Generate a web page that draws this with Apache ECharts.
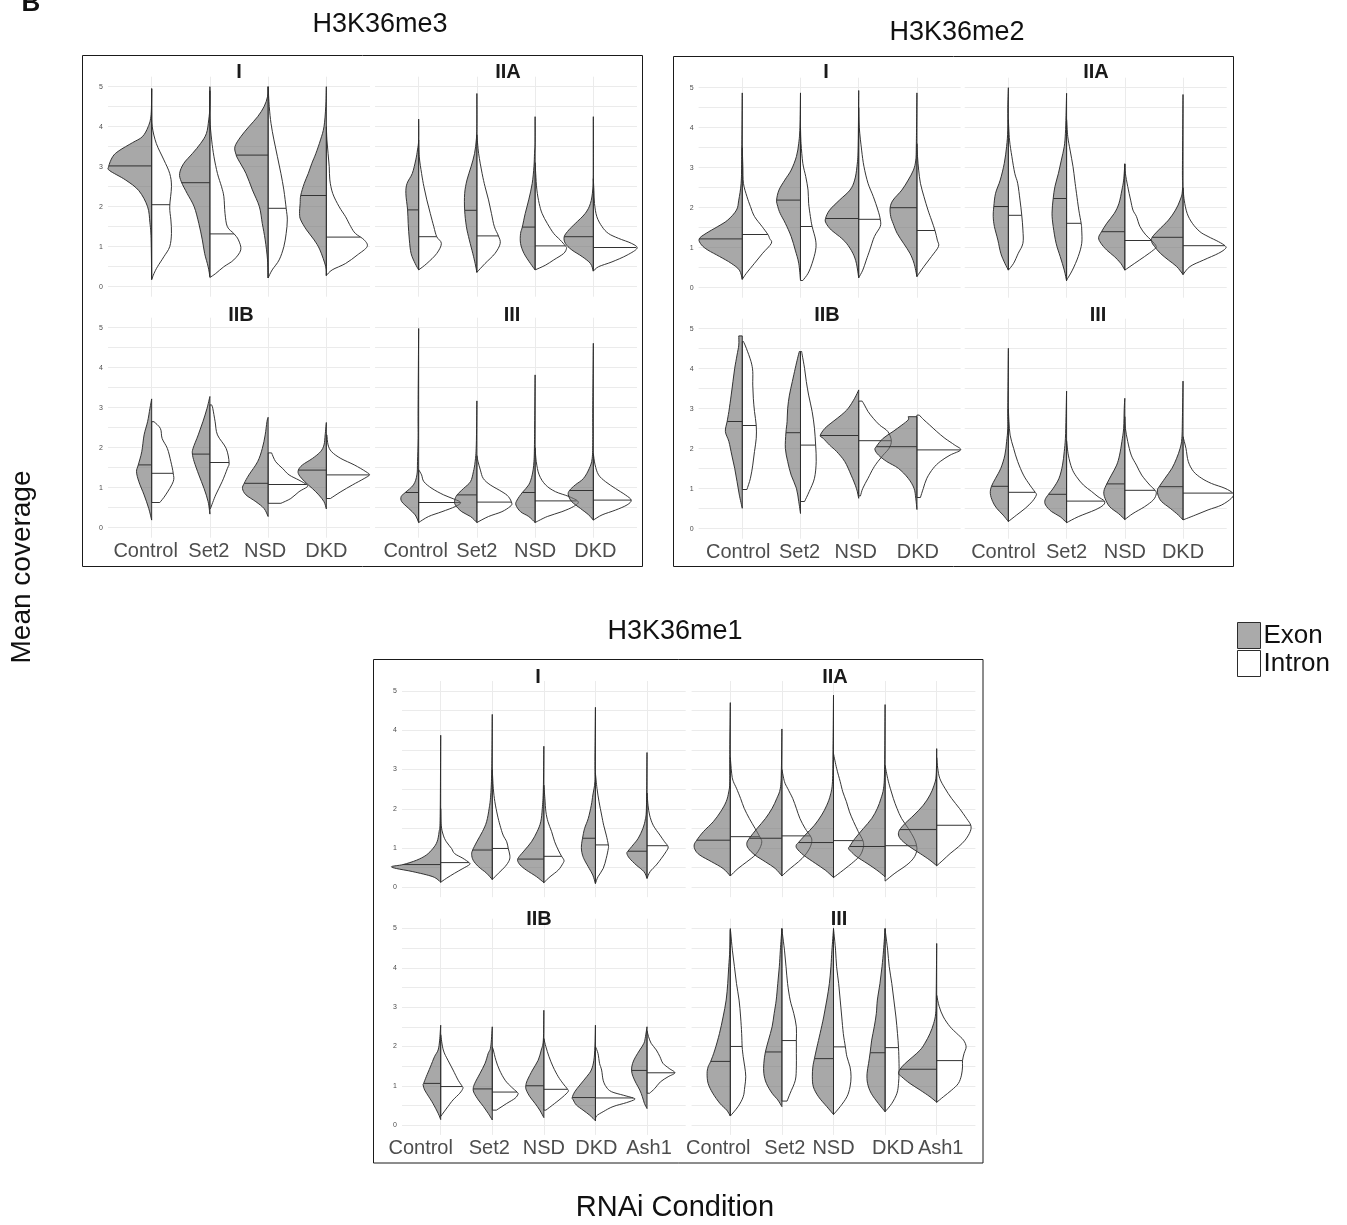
<!DOCTYPE html>
<html><head><meta charset="utf-8">
<script src="https://cdn.jsdelivr.net/npm/echarts@6/dist/echarts.min.js"></script>
<style>html,body{margin:0;padding:0;background:#fff}#c{width:1347px;height:1225px}</style>
</head><body><div id="c"></div>
<script>
// ---------- categories & ticks ----------
const catsFour = ['Control', 'Set2', 'NSD', 'DKD'];
const catsFive = ['Control', 'Set2', 'NSD', 'DKD', 'Ash1'];
const yTickLabels = [0, 1, 2, 3, 4, 5];
const yGridValues = [0, 0.5, 1, 1.5, 2, 2.5, 3, 3.5, 4, 4.5, 5];
const legendNames = ['Exon', 'Intron'];
const boxTitles = ['H3K36me3', 'H3K36me2', 'H3K36me1'];
const facetNames = ['I', 'IIA', 'IIB', 'III'];

// Half-violin profiles: [value, halfWidth(% of category spacing), ...] from min to max
// ===== H3K36me3 =====
const me3_I_exon = [
 [0.18,0, 1.2,1, 1.6,3, 2.0,7, 2.4,22, 2.67,45, 2.9,72, 3.0,74, 3.25,67, 3.4,56, 3.6,33, 3.75,16, 4.0,6, 4.3,1, 4.95,0],
 [0.25,0, 0.5,3, 0.83,9, 1.17,13, 1.58,19, 2.0,27, 2.33,39, 2.62,49, 2.83,52, 3.08,45, 3.33,30, 3.58,16, 3.83,6, 4.17,2, 4.5,0, 5.0,0],
 [0.22,0, 0.67,1, 1.17,5, 1.58,10, 2.0,15, 2.42,27, 2.83,38, 3.17,51, 3.3,55, 3.5,57, 3.75,47, 4.0,33, 4.25,18, 4.5,7, 4.75,1, 5.0,0],
 [0.28,0, 0.5,1, 0.92,11, 1.17,21, 1.42,34, 1.67,44, 1.83,46, 2.08,45, 2.28,44, 2.58,38, 2.83,31, 3.08,25, 3.33,18, 3.67,10, 4.0,4, 4.5,1, 5.0,0]];
const me3_I_intron = [
 [0.18,0, 0.33,4, 0.5,10, 0.75,21, 1.0,31, 1.33,34, 1.67,33, 2.0,31, 2.5,34, 2.83,31, 3.17,21, 3.58,8, 4.0,1, 4.4,0, 4.95,0],
 [0.23,0, 0.33,10, 0.5,24, 0.67,41, 0.92,53, 1.17,49, 1.33,41, 1.5,30, 1.83,26, 2.25,24, 2.5,20, 2.83,13, 3.25,7, 3.67,3, 4.2,0, 4.9,0],
 [0.22,0, 0.42,7, 0.67,19, 1.0,27, 1.33,31, 1.67,33, 1.96,31, 2.42,27, 2.83,22, 3.25,16, 3.67,10, 4.08,5, 4.5,2, 5.0,0],
 [0.28,0, 0.42,10, 0.58,33, 0.79,53, 1.0,70, 1.17,65, 1.33,50, 1.5,42, 1.75,33, 2.0,22, 2.33,11, 2.67,6, 3.0,5, 3.33,3, 3.67,1, 4.0,0]];
const me3_I_exonMedian = [3.02, 2.6, 3.29, 2.28];
const me3_I_intronMedian = [2.05, 1.32, 1.96, 1.24];

const me3_IIA_exon = [
 [0.42,0, 0.58,6, 0.83,13, 1.17,16, 1.58,18, 1.92,19, 2.33,22, 2.58,20, 2.83,11, 3.17,5, 3.42,2, 3.67,0, 4.19,0],
 [0.36,0, 0.58,3, 0.83,7, 1.17,13, 1.5,18, 1.91,21, 2.33,21, 2.67,17, 3.0,10, 3.33,4, 3.67,1, 4.0,0, 4.83,0],
 [0.42,0, 0.58,8, 0.83,19, 1.08,25, 1.33,25, 1.49,22, 1.83,17, 2.17,11, 2.58,5, 3.0,2, 3.33,1, 3.6,0, 4.25,0],
 [0.39,0, 0.58,5, 0.75,19, 0.92,37, 1.08,48, 1.25,50, 1.42,42, 1.58,31, 1.83,14, 2.08,5, 2.42,1, 2.8,0, 4.25,0]];
const me3_IIA_intron = [
 [0.42,0, 0.58,14, 0.83,31, 1.08,39, 1.25,31, 1.5,26, 1.83,20, 2.17,14, 2.5,9, 2.83,5, 3.25,1, 3.67,0],
 [0.36,0, 0.58,14, 0.83,31, 1.08,40, 1.27,37, 1.5,30, 1.83,25, 2.17,20, 2.5,14, 2.83,9, 3.33,3, 3.8,0],
 [0.42,0, 0.54,18, 0.67,32, 0.83,49, 0.96,54, 1.02,52, 1.17,43, 1.33,32, 1.58,21, 1.83,12, 2.08,7, 2.42,3, 2.83,1, 3.1,0],
 [0.39,0, 0.5,9, 0.62,32, 0.79,58, 0.96,75, 1.08,66, 1.21,43, 1.33,26, 1.5,15, 1.75,6, 2.08,2, 2.4,1, 2.7,0]];
const me3_IIA_exonMedian = [1.92, 1.91, 1.49, 1.25];
const me3_IIA_intronMedian = [1.25, 1.27, 1.02, 0.98];

const me3_IIB_exon = [
 [0.19,0, 0.48,5, 0.82,13, 1.15,22, 1.4,26, 1.57,23, 1.9,17, 2.32,13, 2.65,7, 2.98,3, 3.22,0],
 [0.34,0, 0.65,3, 0.98,10, 1.32,19, 1.65,27, 1.84,30, 1.98,29, 2.32,20, 2.65,12, 2.98,5, 3.28,0],
 [0.28,0, 0.48,7, 0.65,21, 0.82,38, 0.98,44, 1.11,41, 1.32,33, 1.65,18, 1.98,10, 2.32,5, 2.65,2, 2.76,0],
 [0.47,0, 0.65,4, 0.82,13, 0.98,24, 1.15,37, 1.32,47, 1.44,48, 1.57,41, 1.73,24, 1.9,10, 2.07,4, 2.32,2, 2.63,0]];
const me3_IIB_intron = [
 [0.63,14, 0.82,24, 1.15,37, 1.36,37, 1.65,33, 1.98,27, 2.23,18, 2.48,15, 2.65,4],
 [0.48,1, 0.82,10, 1.15,21, 1.48,30, 1.63,33, 1.98,28, 2.32,13, 2.65,9, 2.98,5, 3.07,3],
 [0.61,22, 0.73,39, 0.9,53, 1.02,67, 1.08,66, 1.19,53, 1.32,36, 1.48,25, 1.65,13, 1.87,6],
 [0.73,7, 0.9,25, 1.07,45, 1.23,65, 1.32,74, 1.4,68, 1.57,48, 1.73,25, 1.9,9, 2.07,3, 2.32,1]];
const me3_IIB_exonMedian = [1.57, 1.84, 1.11, 1.44];
const me3_IIB_intronMedian = [1.36, 1.63, 1.08, 1.32];

const me3_III_exon = [
 [0.13,0, 0.32,6, 0.48,17, 0.65,29, 0.78,30, 0.88,23, 1.07,9, 1.32,3, 1.65,2, 2.23,1, 3.0,1, 4.98,0],
 [0.13,0, 0.28,11, 0.4,26, 0.57,37, 0.69,38, 0.82,34, 0.98,23, 1.15,11, 1.4,6, 1.65,3, 2.07,1, 3.17,0],
 [0.13,0, 0.28,11, 0.4,25, 0.57,33, 0.69,31, 0.88,22, 1.07,11, 1.32,5, 1.65,2, 2.2,1, 3.82,0],
 [0.19,0, 0.32,8, 0.48,22, 0.65,37, 0.82,43, 0.93,41, 1.07,31, 1.23,17, 1.48,7, 1.73,2, 2.2,1, 3.0,1, 4.61,0]];
const me3_III_intron = [
 [0.13,0, 0.28,17, 0.4,40, 0.53,63, 0.63,72, 0.72,60, 0.82,43, 0.98,23, 1.15,9, 1.32,5, 1.45,0],
 [0.13,0, 0.28,20, 0.4,43, 0.53,57, 0.61,60, 0.78,54, 0.9,43, 1.07,23, 1.23,11, 1.44,6, 1.65,2, 1.8,0],
 [0.13,0, 0.28,21, 0.4,46, 0.53,66, 0.65,74, 0.78,58, 0.9,35, 1.07,18, 1.32,7, 1.65,2, 2.0,0],
 [0.19,0, 0.32,15, 0.44,38, 0.57,58, 0.69,65, 0.82,55, 0.98,38, 1.15,21, 1.32,9, 1.57,3, 1.85,0]];
const me3_III_exonMedian = [0.88, 0.82, 0.88, 0.93];
const me3_III_intronMedian = [0.63, 0.64, 0.67, 0.69];

// ===== H3K36me2 =====
const me2_I_exon = [
 [0.21,0, 0.44,5, 0.61,19, 0.78,39, 0.94,59, 1.07,70, 1.22,74, 1.36,62, 1.53,42, 1.69,25, 1.94,10, 2.19,6, 2.61,2, 3.2,1, 4.87,0],
 [0.19,0, 0.61,3, 0.94,9, 1.28,16, 1.61,26, 1.86,35, 2.03,39, 2.19,41, 2.44,37, 2.69,27, 2.94,16, 3.28,7, 3.61,3, 4.0,1, 4.87,0],
 [0.25,0, 0.61,4, 0.86,10, 1.11,21, 1.28,33, 1.44,47, 1.61,56, 1.73,57, 1.94,50, 2.19,33, 2.44,15, 2.69,7, 3.03,3, 3.5,1, 4.93,0],
 [0.28,0, 0.61,5, 0.86,12, 1.11,23, 1.36,34, 1.61,41, 1.78,45, 2.0,46, 2.19,41, 2.44,26, 2.69,15, 2.94,6, 3.19,2, 3.6,1, 4.87,0]];
const me2_I_intron = [
 [0.21,0, 0.36,7, 0.61,21, 0.86,35, 1.11,50, 1.23,47, 1.33,44, 1.53,34, 1.78,21, 2.03,14, 2.28,8, 2.61,2, 3.03,1, 3.5,0],
 [0.18,4, 0.36,13, 0.61,20, 0.94,26, 1.19,26, 1.53,20, 1.78,17, 2.11,14, 2.44,13, 2.78,9, 3.11,4, 3.6,1, 4.0,0],
 [0.25,0, 0.44,7, 0.69,13, 0.94,19, 1.28,27, 1.53,37, 1.71,37, 1.94,33, 2.28,25, 2.61,16, 3.03,9, 3.44,5, 4.0,1, 4.5,0],
 [0.28,0, 0.53,12, 0.78,25, 1.03,37, 1.19,35, 1.43,31, 1.69,25, 1.94,19, 2.28,12, 2.61,6, 2.94,3, 3.28,1, 3.6,0]];
const me2_I_exonMedian = [1.22, 2.19, 1.73, 2.0];
const me2_I_intronMedian = [1.33, 1.53, 1.71, 1.43];

const me2_IIA_exon = [
 [0.44,0, 0.61,6, 0.86,13, 1.19,18, 1.53,24, 1.78,26, 2.03,25, 2.36,22, 2.69,14, 3.11,7, 3.53,3, 3.94,1, 4.5,1, 5.0,0],
 [0.17,0, 0.44,4, 0.78,11, 1.11,18, 1.53,23, 1.86,25, 2.23,23, 2.53,20, 2.86,14, 3.19,9, 3.53,4, 3.86,2, 4.3,1, 4.86,0],
 [0.44,0, 0.61,7, 0.78,18, 0.94,31, 1.11,41, 1.25,45, 1.4,40, 1.61,31, 1.86,18, 2.11,10, 2.44,5, 2.69,2, 3.09,0],
 [0.33,0, 0.53,11, 0.69,25, 0.86,39, 1.03,49, 1.15,54, 1.26,53, 1.44,42, 1.69,25, 1.94,13, 2.19,5, 2.44,1, 3.0,1, 4.83,0]];
const me2_IIA_intron = [
 [0.44,0, 0.61,9, 0.86,17, 1.11,25, 1.44,25, 1.81,23, 2.19,20, 2.61,16, 2.86,11, 3.28,6, 3.69,2, 4.2,0],
 [0.19,0, 0.44,10, 0.78,20, 1.11,26, 1.44,26, 1.61,25, 1.94,21, 2.36,17, 2.69,14, 3.03,11, 3.44,6, 3.78,2, 4.2,0],
 [0.44,0, 0.61,17, 0.78,34, 0.94,49, 1.03,54, 1.18,46, 1.32,36, 1.53,26, 1.78,20, 1.94,14, 2.19,10, 2.53,5, 2.86,1, 3.1,0],
 [0.33,0, 0.53,12, 0.69,35, 0.86,61, 0.98,73, 1.05,72, 1.15,61, 1.28,43, 1.4,29, 1.61,16, 1.86,7, 2.19,2, 2.5,0]];
const me2_IIA_exonMedian = [2.03, 2.23, 1.4, 1.26];
const me2_IIA_intronMedian = [1.81, 1.61, 1.18, 1.05];

const me2_IIB_exon = [
 [0.51,0, 0.84,5, 1.18,9, 1.51,13, 1.84,18, 2.18,23, 2.43,29, 2.68,26, 2.93,23, 3.34,19, 3.68,16, 4.01,13, 4.34,9, 4.59,6, 4.82,6],
 [0.38,0, 0.68,3, 1.01,7, 1.34,16, 1.68,22, 2.01,26, 2.4,25, 2.68,23, 3.01,22, 3.34,19, 3.68,14, 4.01,9, 4.26,5, 4.43,2],
 [0.76,0, 1.01,4, 1.34,13, 1.68,24, 1.93,38, 2.09,50, 2.26,61, 2.33,66, 2.51,58, 2.68,44, 2.84,30, 3.01,18, 3.26,7, 3.47,0],
 [0.48,0, 0.76,2, 1.01,5, 1.26,15, 1.51,32, 1.68,52, 1.84,66, 1.97,72, 2.05,70, 2.26,58, 2.43,41, 2.59,26, 2.72,15, 2.8,15]];
const me2_IIB_intron = [
 [0.98,8, 1.26,14, 1.59,18, 1.93,21, 2.26,24, 2.58,24, 2.93,21, 3.26,19, 3.59,18, 3.93,18, 4.18,15, 4.51,7, 4.68,2],
 [0.68,7, 0.93,15, 1.26,24, 1.68,27, 2.09,26, 2.51,24, 2.93,20, 3.34,14, 3.68,10, 4.01,7, 4.34,3, 4.43,2],
 [0.82,3, 1.01,7, 1.26,16, 1.51,25, 1.68,33, 1.84,42, 2.01,52, 2.2,56, 2.43,50, 2.59,36, 2.76,25, 2.93,16, 3.09,10, 3.19,6],
 [0.78,6, 1.01,11, 1.26,17, 1.51,28, 1.68,40, 1.84,57, 1.97,75, 2.09,65, 2.26,48, 2.43,34, 2.59,22, 2.72,12, 2.84,4]];
const me2_IIB_exonMedian = [2.68, 2.4, 2.33, 2.05];
const me2_IIB_intronMedian = [2.58, 2.09, 2.2, 1.97];

const me2_III_exon = [
 [0.18,0, 0.34,9, 0.51,20, 0.68,27, 0.88,31, 1.06,29, 1.26,22, 1.51,13, 1.84,6, 2.18,3, 2.51,1, 3.0,1, 4.51,0],
 [0.15,0, 0.3,11, 0.43,26, 0.59,36, 0.72,37, 0.86,31, 1.01,23, 1.26,13, 1.59,7, 1.93,4, 2.26,2, 2.8,1, 3.44,0],
 [0.23,0, 0.38,11, 0.55,26, 0.76,34, 0.93,36, 1.12,31, 1.34,23, 1.59,14, 1.84,9, 2.18,5, 2.51,2, 3.0,1, 3.26,0],
 [0.22,0, 0.34,8, 0.51,22, 0.68,37, 0.84,43, 0.97,44, 1.05,41, 1.26,31, 1.51,19, 1.76,11, 2.01,5, 2.26,2, 2.8,1, 3.69,0]];
const me2_III_intron = [
 [0.18,0, 0.34,14, 0.51,29, 0.68,41, 0.84,48, 0.91,46, 1.09,37, 1.34,26, 1.68,16, 2.01,9, 2.34,3, 2.68,1, 3.0,0],
 [0.15,0, 0.3,20, 0.47,49, 0.59,63, 0.69,65, 0.8,54, 0.93,43, 1.09,29, 1.3,17, 1.51,9, 1.84,3, 2.2,0],
 [0.23,0, 0.38,14, 0.55,34, 0.72,49, 0.87,54, 0.96,52, 1.09,43, 1.34,29, 1.59,20, 1.84,11, 2.18,5, 2.51,1, 2.8,0],
 [0.22,0, 0.34,21, 0.47,43, 0.59,66, 0.76,83, 0.88,86, 1.01,72, 1.13,49, 1.26,32, 1.43,18, 1.68,9, 2.01,5, 2.3,0]];
const me2_III_exonMedian = [1.06, 0.86, 1.12, 1.05];
const me2_III_intronMedian = [0.91, 0.69, 0.96, 0.89];

// ===== H3K36me1 =====
const me1_I_exon = [
 [0.13,0, 0.27,15, 0.4,54, 0.48,86, 0.53,95, 0.58,73, 0.69,47, 0.82,28, 0.99,15, 1.16,7, 1.42,3, 1.8,1, 3.87,0],
 [0.2,0, 0.36,11, 0.53,27, 0.69,37, 0.84,40, 0.95,38, 1.16,30, 1.42,19, 1.67,11, 2.01,6, 2.35,3, 3.0,1, 4.4,0],
 [0.12,0, 0.27,14, 0.44,34, 0.57,46, 0.69,51, 0.78,48, 0.95,37, 1.16,24, 1.42,13, 1.67,6, 2.01,3, 2.5,1, 3.59,0],
 [0.1,0, 0.31,5, 0.48,12, 0.69,21, 0.82,25, 0.95,27, 1.08,27, 1.25,25, 1.5,21, 1.75,14, 2.09,8, 2.35,5, 2.69,1, 3.2,1, 4.58,0],
 [0.23,0, 0.4,6, 0.57,21, 0.74,34, 0.86,39, 0.92,37, 1.08,27, 1.25,17, 1.5,8, 1.75,3, 2.1,1, 3.43,0]];
const me1_I_intron = [
 [0.13,0, 0.23,11, 0.36,27, 0.48,43, 0.58,56, 0.63,55, 0.74,43, 0.86,27, 0.99,21, 1.16,11, 1.33,5, 1.58,1, 2.0,0],
 [0.2,0, 0.36,12, 0.53,25, 0.69,33, 0.82,34, 0.99,31, 1.16,28, 1.33,21, 1.58,15, 1.84,10, 2.18,5, 2.52,2, 3.0,0],
 [0.12,0, 0.27,12, 0.44,28, 0.61,37, 0.69,39, 0.8,34, 0.95,28, 1.16,21, 1.42,15, 1.67,8, 1.92,4, 2.26,2, 2.6,0],
 [0.1,0, 0.27,5, 0.48,15, 0.74,21, 0.99,25, 1.08,25, 1.33,21, 1.58,16, 1.84,12, 2.18,7, 2.52,3, 2.9,0],
 [0.23,0, 0.4,6, 0.57,18, 0.74,28, 0.91,37, 1.03,41, 1.16,34, 1.33,25, 1.58,12, 1.84,5, 2.09,2, 2.4,0]];
const me1_I_exonMedian = [0.58, 0.95, 0.72, 1.25, 0.92];
const me1_I_intronMedian = [0.63, 0.99, 0.79, 1.08, 1.06];

const me1_IIA_exon = [
 [0.29,0, 0.48,14, 0.65,36, 0.82,59, 0.95,68, 1.08,70, 1.2,65, 1.42,52, 1.67,33, 1.92,19, 2.18,8, 2.43,3, 2.69,1, 3.5,1, 4.7,0],
 [0.29,0, 0.48,13, 0.65,32, 0.82,52, 0.99,65, 1.12,68, 1.25,63, 1.5,48, 1.75,32, 2.01,19, 2.26,10, 2.52,3, 3.0,1, 4.03,0],
 [0.25,0, 0.44,16, 0.61,35, 0.82,58, 0.99,71, 1.08,72, 1.14,68, 1.33,55, 1.58,37, 1.84,23, 2.09,13, 2.35,6, 2.69,2, 3.5,1, 4.89,0],
 [0.27,0, 0.44,16, 0.61,35, 0.78,55, 0.91,66, 0.99,71, 1.04,69, 1.25,58, 1.5,42, 1.75,26, 2.01,15, 2.26,8, 2.52,3, 3.0,1, 4.65,0],
 [0.55,0, 0.69,13, 0.86,32, 1.03,52, 1.2,68, 1.33,74, 1.46,72, 1.63,61, 1.84,44, 2.09,26, 2.35,13, 2.6,5, 2.86,1, 3.53,0]];
const me1_IIA_intron = [
 [0.29,0, 0.48,15, 0.65,32, 0.82,48, 0.99,57, 1.16,61, 1.29,57, 1.5,48, 1.75,37, 2.01,27, 2.26,20, 2.52,12, 2.69,6, 2.86,3, 3.3,0],
 [0.29,0, 0.48,16, 0.65,32, 0.82,45, 1.03,55, 1.2,58, 1.31,55, 1.5,45, 1.75,35, 2.01,28, 2.26,21, 2.52,11, 2.69,5, 3.0,0],
 [0.25,0, 0.44,19, 0.65,39, 0.82,52, 1.03,58, 1.19,57, 1.42,48, 1.67,39, 1.92,31, 2.18,25, 2.43,18, 2.69,13, 3.03,6, 3.4,0],
 [0.16,0, 0.36,19, 0.57,42, 0.74,55, 0.91,61, 1.06,61, 1.25,56, 1.5,45, 1.75,32, 2.01,23, 2.26,16, 2.52,10, 2.77,5, 3.1,0],
 [0.55,0, 0.69,12, 0.86,26, 1.03,42, 1.2,55, 1.42,65, 1.58,66, 1.75,58, 2.01,44, 2.26,29, 2.52,16, 2.77,6, 3.03,2, 3.3,0]];
const me1_IIA_exonMedian = [1.2, 1.25, 1.14, 1.04, 1.47];
const me1_IIA_intronMedian = [1.29, 1.31, 1.19, 1.06, 1.58];

const me1_IIB_exon = [
 [0.14,0, 0.3,5, 0.55,15, 0.72,23, 0.89,31, 1.02,34, 1.06,33, 1.23,28, 1.48,20, 1.74,12, 1.91,5, 2.16,2, 2.54,0],
 [0.13,0, 0.3,8, 0.47,17, 0.64,27, 0.81,35, 0.92,37, 1.06,34, 1.31,24, 1.57,14, 1.82,8, 1.99,3, 2.5,0],
 [0.19,0, 0.38,8, 0.55,17, 0.72,27, 0.89,34, 1.0,35, 1.14,32, 1.4,22, 1.65,11, 1.91,5, 2.16,1, 2.92,0],
 [0.11,0, 0.25,11, 0.38,24, 0.51,37, 0.64,43, 0.7,45, 0.85,40, 1.02,30, 1.23,17, 1.4,8, 1.65,3, 2.0,1, 2.54,0],
 [0.42,0, 0.55,5, 0.72,9, 0.89,14, 1.06,21, 1.23,27, 1.39,30, 1.57,28, 1.74,22, 1.91,14, 2.08,6, 2.25,3, 2.5,0]];
const me1_IIB_intron = [
 [0.22,0, 0.47,14, 0.64,24, 0.81,37, 0.93,43, 0.98,42, 1.14,34, 1.4,24, 1.65,14, 1.91,5, 2.3,0],
 [0.38,8, 0.55,28, 0.68,44, 0.79,50, 0.84,48, 0.97,37, 1.14,25, 1.4,14, 1.65,7, 1.91,2, 1.99,0],
 [0.38,4, 0.55,21, 0.72,37, 0.85,47, 0.91,46, 1.06,37, 1.23,28, 1.48,18, 1.74,10, 1.99,4, 2.2,0],
 [0.11,0, 0.23,2, 0.34,15, 0.47,34, 0.57,60, 0.65,76, 0.69,73, 0.76,54, 0.85,31, 0.97,21, 1.14,15, 1.4,12, 1.57,8, 1.82,5, 2.0,0],
 [0.81,5, 0.93,15, 1.1,26, 1.23,41, 1.33,54, 1.44,43, 1.57,31, 1.74,25, 1.91,18, 2.08,8, 2.25,3, 2.4,0]];
const me1_IIB_exonMedian = [1.06, 0.92, 1.0, 0.7, 1.39];
const me1_IIB_intronMedian = [0.98, 0.84, 0.91, 0.69, 1.33];

const me1_III_exon = [
 [0.23,0, 0.38,7, 0.55,20, 0.81,34, 1.06,43, 1.31,45, 1.48,43, 1.62,38, 1.91,30, 2.33,21, 2.75,14, 3.18,8, 3.6,5, 4.03,3, 4.45,1, 4.97,0],
 [0.47,0, 0.64,8, 0.81,19, 1.06,30, 1.31,35, 1.57,35, 1.86,32, 2.16,26, 2.5,19, 2.84,15, 3.18,11, 3.6,8, 4.03,5, 4.45,3, 5.0,0],
 [0.27,0, 0.47,13, 0.72,29, 0.97,39, 1.23,41, 1.48,40, 1.69,37, 1.99,32, 2.33,26, 2.75,19, 3.18,13, 3.6,8, 4.03,5, 4.45,3, 5.0,0],
 [0.34,0, 0.55,13, 0.81,27, 1.06,34, 1.31,35, 1.57,32, 1.84,29, 2.16,26, 2.5,21, 2.84,17, 3.18,15, 3.6,10, 4.03,6, 4.45,3, 5.0,0],
 [0.58,0, 0.72,13, 0.89,32, 1.06,52, 1.23,68, 1.31,74, 1.42,71, 1.57,61, 1.74,46, 1.91,32, 2.08,23, 2.33,13, 2.58,6, 2.84,2, 3.3,1, 4.62,0]];
const me1_III_intron = [
 [0.23,0, 0.47,15, 0.72,25, 0.97,28, 1.23,30, 1.48,28, 1.74,25, 1.99,23, 2.33,22, 2.75,20, 3.18,17, 3.6,12, 4.03,8, 4.45,4, 4.87,1, 5.0,0],
 [0.61,10, 0.81,16, 1.14,26, 1.48,28, 1.82,28, 2.15,28, 2.5,28, 2.84,23, 3.18,16, 3.6,11, 4.03,8, 4.45,5, 4.87,1, 5.0,0],
 [0.27,0, 0.47,13, 0.72,26, 0.97,32, 1.23,34, 1.48,32, 1.74,26, 1.99,23, 2.33,19, 2.75,16, 3.18,13, 3.6,10, 4.03,6, 4.45,4, 4.87,1, 5.0,0],
 [0.34,0, 0.55,13, 0.81,23, 1.06,26, 1.31,27, 1.57,27, 1.97,26, 2.33,24, 2.75,21, 3.18,17, 3.6,13, 4.03,8, 4.45,5, 4.87,1, 5.0,0],
 [0.58,0, 0.72,13, 0.89,29, 1.06,42, 1.27,48, 1.48,50, 1.64,50, 1.82,53, 1.99,57, 2.16,52, 2.33,39, 2.5,26, 2.75,13, 3.01,5, 3.3,0]];
const me1_III_exonMedian = [1.62, 1.86, 1.69, 1.84, 1.42];
const me1_III_intronMedian = [2.0, 2.15, 1.99, 1.97, 1.64];

// ---------- layout (pixels) ----------
const FONT = '"Liberation Sans", Arial, Helvetica, sans-serif';
const panels = [
 {d:[me3_I_exon, me3_I_intron, me3_I_exonMedian, me3_I_intronMedian], cats:catsFour, name:facetNames[0], left:108, top:76.7, width:262, height:220, xl:false, yl:true, sx:239, sy:72},
 {d:[me3_IIA_exon, me3_IIA_intron, me3_IIA_exonMedian, me3_IIA_intronMedian], cats:catsFour, name:facetNames[1], left:375, top:76.7, width:262, height:220, xl:false, yl:false, sx:508, sy:72},
 {d:[me3_IIB_exon, me3_IIB_intron, me3_IIB_exonMedian, me3_IIB_intronMedian], cats:catsFour, name:facetNames[2], left:108, top:317.7, width:262, height:220, xl:true, yl:true, sx:241, sy:315, shift:[-6,-1,-3,0]},
 {d:[me3_III_exon, me3_III_intron, me3_III_exonMedian, me3_III_intronMedian], cats:catsFour, name:facetNames[3], left:375, top:317.7, width:262, height:220, xl:true, yl:false, sx:512, sy:315, shift:[-3,0,0,2]},
 {d:[me2_I_exon, me2_I_intron, me2_I_exonMedian, me2_I_intronMedian], cats:catsFour, name:facetNames[0], left:698.6, top:77.7, width:262, height:220, xl:false, yl:true, sx:826, sy:72},
 {d:[me2_IIA_exon, me2_IIA_intron, me2_IIA_exonMedian, me2_IIA_intronMedian], cats:catsFour, name:facetNames[1], left:964.7, top:77.7, width:262, height:220, xl:false, yl:false, sx:1096, sy:72},
 {d:[me2_IIB_exon, me2_IIB_intron, me2_IIB_exonMedian, me2_IIB_intronMedian], cats:catsFour, name:facetNames[2], left:698.6, top:318.7, width:262, height:220, xl:true, yl:true, sx:827, sy:315, shift:[-4,-1,-3,1]},
 {d:[me2_III_exon, me2_III_intron, me2_III_exonMedian, me2_III_intronMedian], cats:catsFour, name:facetNames[3], left:964.7, top:318.7, width:262, height:220, xl:true, yl:false, sx:1098, sy:315, shift:[-5,0,0,0]},
 {d:[me1_I_exon, me1_I_intron, me1_I_exonMedian, me1_I_intronMedian], cats:catsFive, name:facetNames[0], left:402, top:681, width:283.7, height:216.2, xl:false, yl:true, sx:538, sy:677},
 {d:[me1_IIA_exon, me1_IIA_intron, me1_IIA_exonMedian, me1_IIA_intronMedian], cats:catsFive, name:facetNames[1], left:691.6, top:681, width:283.8, height:216.2, xl:false, yl:false, sx:835, sy:677},
 {d:[me1_IIB_exon, me1_IIB_intron, me1_IIB_exonMedian, me1_IIB_intronMedian], cats:catsFive, name:facetNames[2], left:402, top:918.7, width:283.7, height:216.2, xl:true, yl:true, sx:539, sy:919, shift:[-20,-3,0,1,2]},
 {d:[me1_III_exon, me1_III_intron, me1_III_exonMedian, me1_III_intronMedian], cats:catsFive, name:facetNames[3], left:691.6, top:918.7, width:283.8, height:216.2, xl:true, yl:false, sx:839, sy:919, shift:[-12,3,0,8,4]}
];

const EXON_FILL = 'rgba(110,110,110,0.6)';
const STROKE = '#2b2b2b';

function widthAt(prof, v) {
  for (let k = 0; k + 2 < prof.length; k += 2) {
    if (v >= prof[k] && v <= prof[k + 2]) {
      const t = (v - prof[k]) / (prof[k + 2] - prof[k] || 1);
      return prof[k + 1] + t * (prof[k + 3] - prof[k + 1]);
    }
  }
  return 0;
}

function halfPath(prof, c, side, fill, api) {
  const pts = [];
  for (let k = 0; k < prof.length; k += 2) pts.push(api.coord([c + side * prof[k + 1] / 100, prof[k]]));
  const b0 = api.coord([c, prof[0]]);
  const b1 = api.coord([c, prof[prof.length - 2]]);
  const f = (p) => p[0].toFixed(2) + ',' + p[1].toFixed(2);
  let d = 'M' + f(b0) + ' L' + f(pts[0]);
  for (let k = 0; k < pts.length - 1; k++) {
    const p0 = pts[Math.max(k - 1, 0)], p1 = pts[k], p2 = pts[k + 1], p3 = pts[Math.min(k + 2, pts.length - 1)];
    const c1 = [p1[0] + (p2[0] - p0[0]) / 6, p1[1] + (p2[1] - p0[1]) / 6];
    const c2 = [p2[0] - (p3[0] - p1[0]) / 6, p2[1] - (p3[1] - p1[1]) / 6];
    d += ' C' + f(c1) + ' ' + f(c2) + ' ' + f(p2);
  }
  d += ' L' + f(b1) + ' Z';
  return {type: 'path', shape: {pathData: d}, style: {fill: fill, stroke: STROKE, lineWidth: 0.95}};
}

function makeRender(profiles, medians, side, fill) {
  return function (params, api) {
    const i = params.dataIndex;
    const c = api.value(0);
    const prof = profiles[i];
    const med = medians[i];
    const w = widthAt(prof, med);
    const a = api.coord([c, med]);
    const b = api.coord([c + side * w / 100, med]);
    return {
      type: 'group',
      children: [
        halfPath(prof, c, side, fill, api),
        {type: 'line', shape: {x1: a[0], y1: a[1], x2: b[0], y2: b[1]}, style: {stroke: '#333', lineWidth: 1}}
      ]
    };
  };
}

const grid = [], xAxis = [], yAxis = [], series = [];
const graphic = [];
panels.forEach((p, g) => {
  const n = p.cats.length;
  grid.push({left: p.left, top: p.top, width: p.width, height: p.height, containLabel: false});
  const ticks = p.cats.map((_, i) => i + 1);
  const rich = {};
  (p.shift || []).forEach((s, i) => {
    rich['s' + i] = {fontSize: 20, color: '#4d4d4d', fontFamily: FONT, padding: s < 0 ? [0, -2 * s, 0, 0] : [0, 0, 0, 2 * s]};
  });
  xAxis.push({
    gridIndex: g, type: 'value', min: 0.25, max: n + 0.75,
    axisLine: {show: false},
    axisTick: {show: false, customValues: ticks},
    splitLine: {show: true, lineStyle: {color: '#ebebeb', width: 1}},
    axisLabel: {
      show: p.xl, customValues: ticks, fontSize: 20, color: '#4d4d4d', fontFamily: FONT, margin: 4,
      formatter: (v) => { const i = Math.round(v) - 1; const s = p.cats[i]; return p.shift ? '{s' + i + '|' + s + '}' : s; },
      rich: rich
    }
  });
  yAxis.push({
    gridIndex: g, type: 'value', min: -0.25, max: 5.25,
    axisLine: {show: false},
    axisTick: {show: false, customValues: yGridValues},
    splitLine: {show: true, lineStyle: {color: '#ebebeb', width: 1}},
    axisLabel: {show: p.yl, customValues: yTickLabels, fontSize: 7, color: '#4d4d4d', fontFamily: FONT, margin: 5}
  });
  const data = p.cats.map((_, i) => [i + 1, p.d[2][i]]);
  series.push({
    name: legendNames[1], type: 'custom', xAxisIndex: g, yAxisIndex: g, silent: true, z: 2,
    itemStyle: {color: '#ffffff', borderColor: STROKE},
    renderItem: makeRender(p.d[1], p.d[3], 1, '#ffffff'), data: data
  });
  series.push({
    name: legendNames[0], type: 'custom', xAxisIndex: g, yAxisIndex: g, silent: true, z: 3,
    itemStyle: {color: '#aaaaaa', borderColor: STROKE},
    renderItem: makeRender(p.d[0], p.d[2], -1, EXON_FILL), data: data
  });
  graphic.push({type: 'text', x: p.sx, y: p.sy, silent: true, z: 100,
    style: {text: p.name, fontSize: 20, fontWeight: 'bold', fill: '#1a1a1a', fontFamily: FONT, align: 'center', verticalAlign: 'middle'}});
});

// boxes
[[82.5, 55.5, 560, 511], [673.5, 56.5, 560, 510], [373.5, 659.5, 609.5, 503.5]].forEach(r => {
  graphic.push({type: 'rect', shape: {x: r[0], y: r[1], width: r[2], height: r[3]}, silent: true, z: 100,
    style: {fill: 'none', stroke: '#1a1a1a', lineWidth: 1}});
});
// box titles
[[380, 25], [957, 33], [675, 632]].forEach((t, i) => {
  graphic.push({type: 'text', x: t[0], y: t[1], silent: true,
    style: {text: boxTitles[i], fontSize: 27, fill: '#111', fontFamily: FONT, align: 'center', verticalAlign: 'middle'}});
});
graphic.push({type: 'text', x: 22, y: 567, rotation: Math.PI / 2, silent: true,
  style: {text: 'Mean coverage', fontSize: 28, fill: '#111', fontFamily: FONT, align: 'center', verticalAlign: 'middle'}});
graphic.push({type: 'text', x: 675, y: 1208, silent: true,
  style: {text: 'RNAi Condition', fontSize: 29, fill: '#111', fontFamily: FONT, align: 'center', verticalAlign: 'middle'}});
graphic.push({type: 'text', x: 31, y: 4, silent: true,
  style: {text: 'B', fontSize: 26, fontWeight: 'bold', fill: '#111', fontFamily: FONT, align: 'center', verticalAlign: 'middle'}});

const chart = echarts.init(document.getElementById('c'), null, {renderer: 'canvas'});
chart.setOption({
  animation: false,
  backgroundColor: '#ffffff',
  grid, xAxis, yAxis, series, graphic,
  legend: {
    show: true, left: 1237, top: 622, orient: 'vertical', selectedMode: false, padding: 0,
    itemWidth: 23, itemHeight: 26, itemGap: 1, icon: 'rect',
    textStyle: {fontSize: 26, color: '#111', fontFamily: FONT, padding: [6, 0, 0, -2]},
    data: [
      {name: legendNames[0], itemStyle: {color: '#aaaaaa', borderColor: STROKE, borderWidth: 1}},
      {name: legendNames[1], itemStyle: {color: '#ffffff', borderColor: STROKE, borderWidth: 1}}
    ]
  }
});
</script></body></html>
